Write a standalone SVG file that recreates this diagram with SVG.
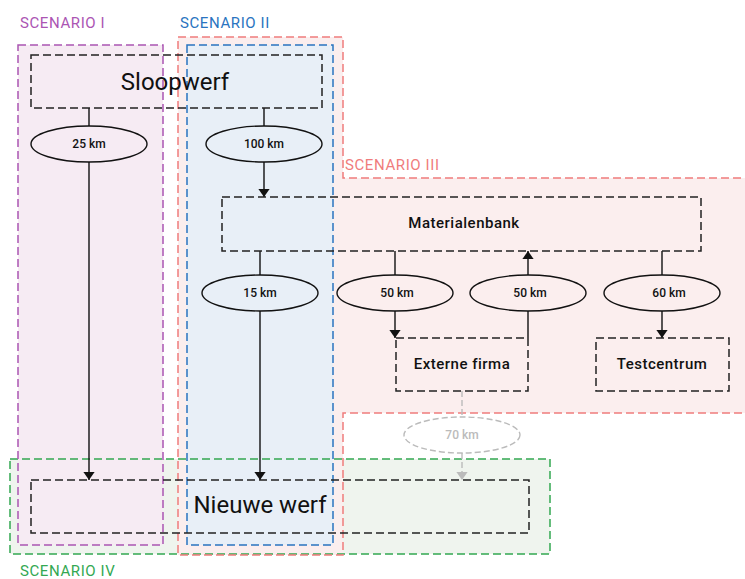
<svg xmlns="http://www.w3.org/2000/svg" width="745" height="579" viewBox="0 0 745 579">
  <style>
    .lbl { font-family: "Roboto", "DejaVu Sans", sans-serif; font-weight: 500; }
    .scn { font-size: 15px; letter-spacing: 0.6px; font-weight: 400; }
    .node { fill: none; stroke: #222; stroke-width: 1.5; stroke-dasharray: 8 4; }
    .edge { stroke: #111; stroke-width: 1.4; fill: none; }
    .ell { fill: none; stroke: #111; stroke-width: 1.4; }
    .km { font-size: 12px; fill: #111; text-anchor: middle; }
    .big { font-size: 24px; fill: #111; text-anchor: middle; font-weight: 400; }
    .mid { font-size: 15px; letter-spacing: 0.5px; fill: #111; text-anchor: middle; }
    .zone { stroke-width: 1.5; stroke-dasharray: 8 4; fill: none; }
  </style>
  <defs>
    <marker id="arr" viewBox="0 0 10 14" refX="10" refY="7" markerWidth="8" markerHeight="12" markerUnits="userSpaceOnUse" orient="auto">
      <path d="M0,0 L10,7 L0,14 z" fill="#111"/>
    </marker>
    <marker id="arrGray" viewBox="0 0 10 14" refX="10" refY="7" markerWidth="8" markerHeight="12" markerUnits="userSpaceOnUse" orient="auto">
      <path d="M0,0 L10,7 L0,14 z" fill="#bbb"/>
    </marker>
  </defs>
  <rect width="745" height="579" fill="#fff"/>

  <!-- scenario zone fills -->
  <g id="zone-fills">
    <rect x="10" y="459" width="540" height="95" fill="#eff4ee"/>
    <path d="M178,37 H343 V178 H746 V413 H343 V555 H178 Z" fill="#fbeeee"/>
    <rect x="18" y="45" width="145" height="500" fill="#f6ebf3"/>
    <rect x="187" y="45" width="146" height="500" fill="#e8eff7"/>
  </g>
  <!-- scenario zone outlines -->
  <g id="zone-lines">
    <rect class="zone" x="10" y="459" width="540" height="95" stroke="#33a852"/>
    <path class="zone" d="M178,37 H343 V178 H746 V413 H343 V555 H178 Z" stroke="#f07c7c"/>
    <rect class="zone" x="18" y="45" width="145" height="500" stroke="#ab55b3"/>
    <rect class="zone" x="187" y="45" width="146" height="500" stroke="#2a74c0"/>
  </g>
  <g id="zone-labels" class="lbl scn">
    <text x="20" y="28" fill="#ab55b3">SCENARIO I</text>
    <text x="180" y="28" fill="#2a74c0">SCENARIO II</text>
    <text x="345" y="170" fill="#f07c7c">SCENARIO III</text>
    <text x="20" y="576" fill="#33a852">SCENARIO IV</text>
  </g>

  <!-- connectors -->
  <g id="connectors">
    <path class="edge" d="M89,108 V126"/>
    <path class="edge" d="M89,162 V480" marker-end="url(#arr)"/>
    <path class="edge" d="M264,108 V126"/>
    <path class="edge" d="M264,162 V197" marker-end="url(#arr)"/>
    <path class="edge" d="M260,251 V275"/>
    <path class="edge" d="M260,311 V480" marker-end="url(#arr)"/>
    <path class="edge" d="M395,251 V275"/>
    <path class="edge" d="M395,311 V338" marker-end="url(#arr)"/>
    <path class="edge" d="M528,338 V311"/>
    <path class="edge" d="M528,275 V251" marker-end="url(#arr)"/>
    <path class="edge" d="M662,251 V275"/>
    <path class="edge" d="M662,311 V338" marker-end="url(#arr)"/>
    <path d="M462,391 V417" stroke="#bbb" stroke-width="1.4" stroke-dasharray="6 3"/>
    <path d="M462,453 V480" stroke="#bbb" stroke-width="1.4" stroke-dasharray="6 3" marker-end="url(#arrGray)"/>

    <g class="lbl">
      <ellipse class="ell" cx="89" cy="144" rx="58" ry="18"/>
      <text class="km" x="89" y="148">25 km</text>
      <ellipse class="ell" cx="264" cy="144" rx="58" ry="18"/>
      <text class="km" x="264" y="148">100 km</text>
      <ellipse class="ell" cx="260" cy="293" rx="58" ry="18"/>
      <text class="km" x="260" y="297">15 km</text>
      <ellipse class="ell" cx="395" cy="293" rx="58" ry="18"/>
      <text class="km" x="397" y="297">50 km</text>
      <ellipse class="ell" cx="528" cy="293" rx="58" ry="18"/>
      <text class="km" x="530" y="297">50 km</text>
      <ellipse class="ell" cx="662" cy="293" rx="58" ry="18"/>
      <text class="km" x="669" y="297">60 km</text>
      <ellipse cx="462" cy="435" rx="58" ry="18" fill="none" stroke="#bbb" stroke-width="1.4" stroke-dasharray="6 3"/>
      <text class="km" x="462" y="439" style="fill:#bbb">70 km</text>
    </g>
  </g>

  <!-- nodes -->
  <g id="sloopwerf" class="lbl">
    <rect class="node" x="31" y="55" width="291" height="53"/>
    <text class="big" x="175" y="90">Sloopwerf</text>
  </g>
  <g id="materialenbank" class="lbl">
    <rect class="node" x="222" y="197" width="479" height="54"/>
    <text class="mid" x="464" y="228">Materialenbank</text>
  </g>
  <g id="externe-firma" class="lbl">
    <rect class="node" x="396" y="338" width="132" height="53"/>
    <text class="mid" x="462" y="369">Externe firma</text>
  </g>
  <g id="testcentrum" class="lbl">
    <rect class="node" x="596" y="338" width="133" height="53"/>
    <text class="mid" x="662" y="369">Testcentrum</text>
  </g>
  <g id="nieuwe-werf" class="lbl">
    <rect class="node" x="31" y="480" width="498" height="53"/>
    <text class="big" x="260" y="513">Nieuwe werf</text>
  </g>
</svg>
